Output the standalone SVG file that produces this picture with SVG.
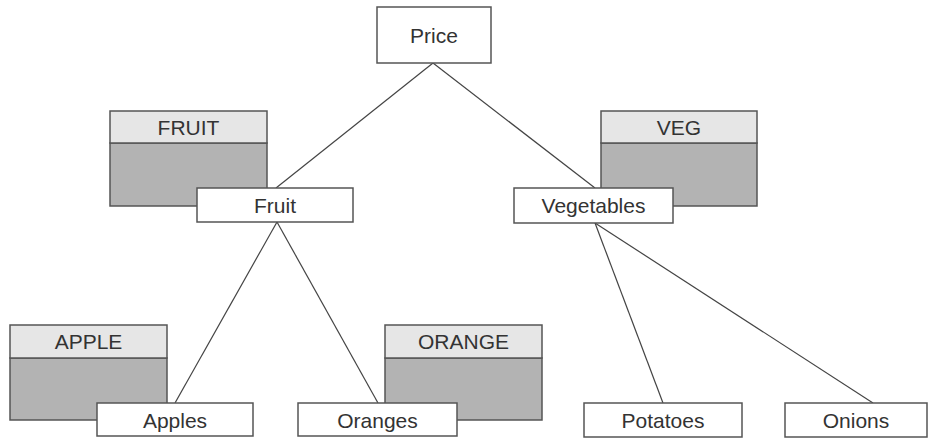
<svg xmlns="http://www.w3.org/2000/svg" width="931" height="439" viewBox="0 0 931 439">
<style>
.bg{fill:#ffffff}
.node rect.box{fill:#ffffff;stroke:#555555;stroke-width:1.5}
.tbl rect.hdr{fill:#e6e6e6;stroke:#555555;stroke-width:1.5}
.tbl rect.body{fill:#b3b3b3;stroke:#555555;stroke-width:1.5}
text{font-family:"Liberation Sans",Arial,sans-serif;font-size:21px;fill:#333333;text-anchor:middle;dominant-baseline:central}
.conn line{stroke:#444444;stroke-width:1.2}
</style>
<rect class="bg" x="0" y="0" width="931" height="439"/>
<g id="tables" class="tbl">
  <g id="tbl-fruit"><rect class="body" x="110" y="143" width="157" height="63"/><rect class="hdr" x="110" y="111" width="157" height="32"/><text x="188.5" y="127">FRUIT</text></g>
  <g id="tbl-veg"><rect class="body" x="601" y="143" width="156" height="63"/><rect class="hdr" x="601" y="111" width="156" height="32"/><text x="679" y="127">VEG</text></g>
  <g id="tbl-apple"><rect class="body" x="10" y="358" width="157" height="62"/><rect class="hdr" x="10" y="325" width="157" height="33"/><text x="88.5" y="341.5">APPLE</text></g>
  <g id="tbl-orange"><rect class="body" x="385" y="358" width="157" height="62"/><rect class="hdr" x="385" y="325" width="157" height="33"/><text x="463.5" y="341.5">ORANGE</text></g>
</g>
<g id="connectors" class="conn">
  <line x1="433" y1="63" x2="276" y2="188"/>
  <line x1="433" y1="63" x2="595" y2="188"/>
  <line x1="277" y1="222" x2="175" y2="403"/>
  <line x1="277" y1="222" x2="378" y2="403"/>
  <line x1="595" y1="223" x2="663" y2="403"/>
  <line x1="595" y1="223" x2="873" y2="403"/>
</g>
<g id="price" class="node"><rect class="box" x="377" y="7" width="114" height="56"/><text x="434" y="35">Price</text></g>
<g id="fruit" class="node"><rect class="box" x="197" y="188" width="156" height="34"/><text x="275" y="205">Fruit</text></g>
<g id="vegetables" class="node"><rect class="box" x="514" y="188" width="159" height="35"/><text x="593.5" y="205.5">Vegetables</text></g>
<g id="apples" class="node"><rect class="box" x="97" y="403" width="156" height="33"/><text x="175" y="420">Apples</text></g>
<g id="oranges" class="node"><rect class="box" x="298" y="403" width="159" height="33"/><text x="377.5" y="420">Oranges</text></g>
<g id="potatoes" class="node"><rect class="box" x="584" y="403" width="158" height="34"/><text x="663" y="420.5">Potatoes</text></g>
<g id="onions" class="node"><rect class="box" x="785" y="403" width="142" height="34"/><text x="856" y="420.5">Onions</text></g>
</svg>
